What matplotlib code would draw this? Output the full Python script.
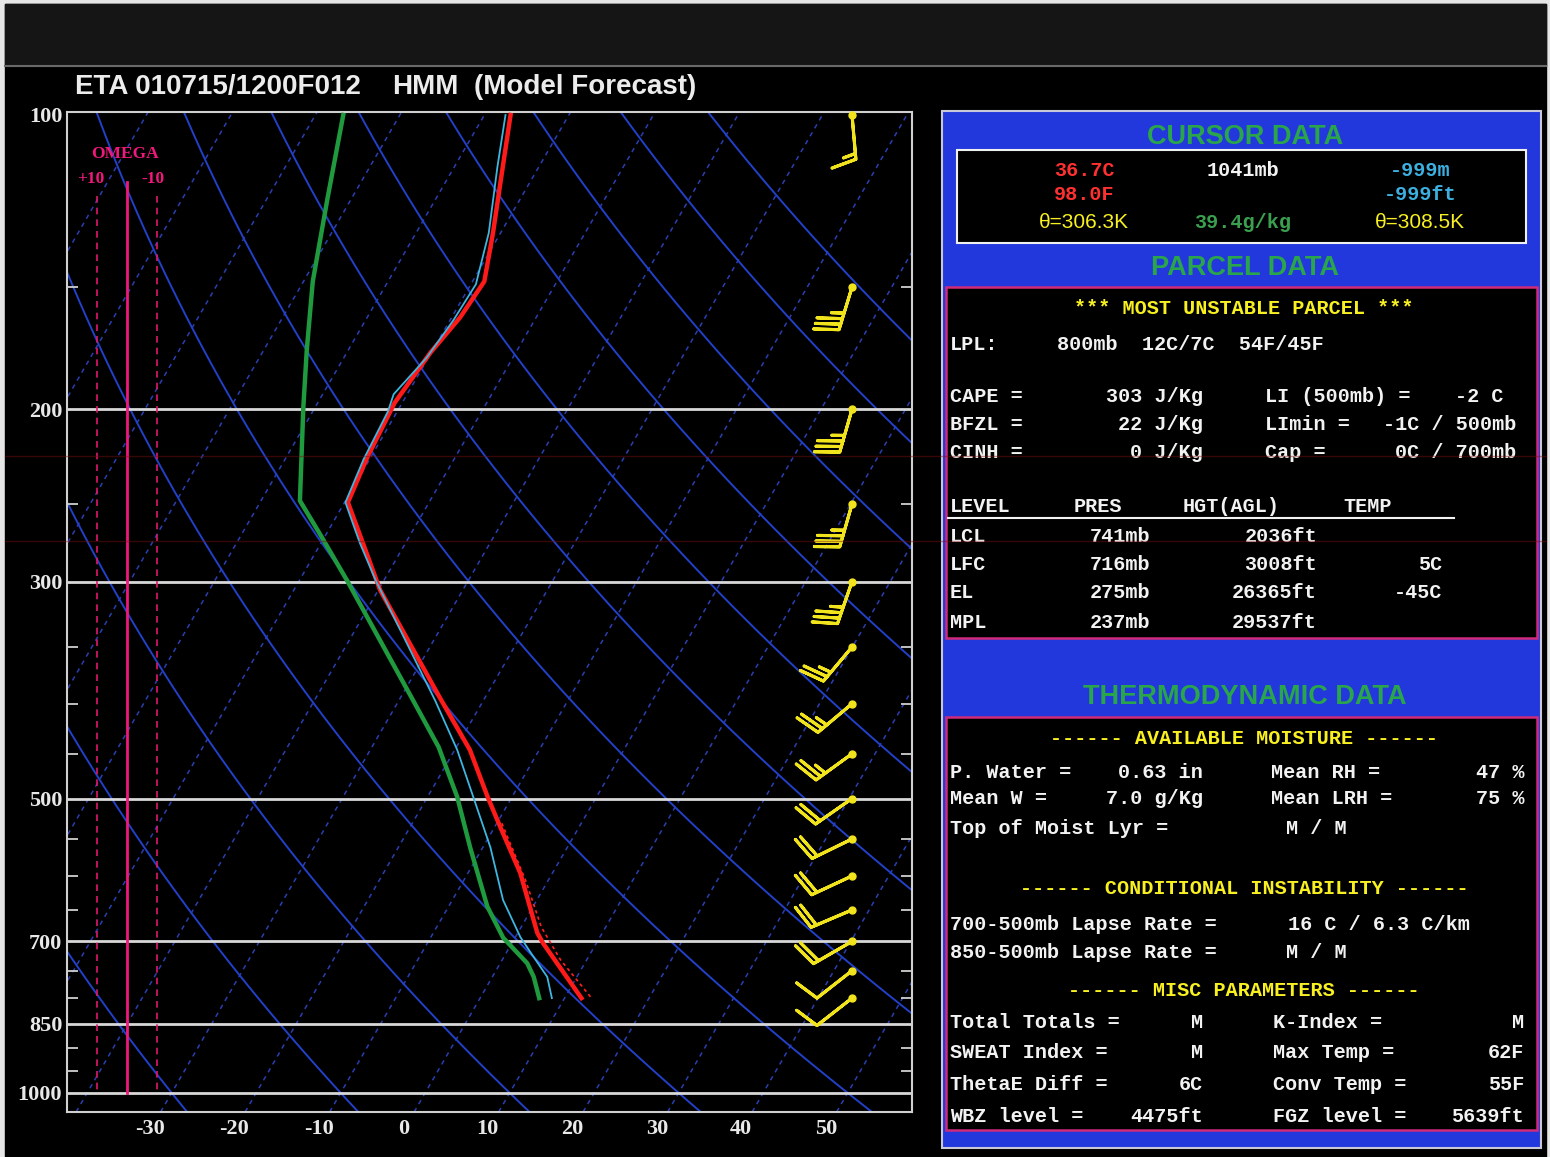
import numpy as np
import matplotlib.pyplot as plt
from matplotlib import font_manager
from matplotlib.patches import Rectangle

# skew-T geometry: x = T + SKEW * ln(P_REF / p)
SKEW = 29.1
P_REF = 1093.0
P_TOP, P_BOT = 99.3, 1046.0
X_MIN, X_MAX = -39.8, 60.2

# temperature (red)
temp_p = [100, 116, 132, 148, 161, 175, 197, 224, 249, 276, 306, 396, 446, 498, 535, 596, 686, 703, 800]
temp_c = [-56.9, -53.7, -50.9, -48.6, -49.0, -50.1, -50.9, -50.4, -49.6, -44.7, -39.8, -25.1, -18.2,
          -12.9, -9.3, -3.8, 2.3, 3.7, 12.0]

# dewpoint (green)
dwpt_p = [100, 122, 148, 174, 199, 248, 268, 299, 397, 443, 498, 561, 645, 694, 737, 761, 800]
dwpt_c = [-76.7, -72.8, -68.9, -64.9, -61.4, -55.4, -50.8, -44.4, -28.3, -22.1, -16.5, -11.5, -5.4,
          -1.4, 3.2, 4.9, 7.0]

# wet-bulb temperature (cyan)
wetb_p = [100, 113, 132, 149, 162, 177, 193, 201, 225, 249, 274, 299, 397, 446, 498, 561, 635, 693,
          719, 761, 800]
wetb_c = [-57.5, -54.9, -51.4, -49.4, -49.6, -50.2, -51.6, -51.1, -50.7, -49.9, -45.4, -41.0, -25.7,
          -19.7, -14.6, -9.1, -4.0, 0.6, 2.9, 6.5, 8.5]

# virtual temperature (dotted red), lower levels only
virt_p = [530, 606, 677, 731, 800]
virt_c = [-9.4, -2.7, 2.4, 6.9, 13.2]

# wind profile
barb_p = [100, 150, 200, 250, 300, 350, 400, 450, 500, 550, 600, 650, 700, 750, 800]
barb_dir = [175, 197, 196, 196, 199, 220, 230, 234, 235, 244, 245, 247, 240, 232, 232]
barb_kt = [15, 35, 35, 35, 35, 25, 25, 25, 20, 20, 20, 20, 20, 10, 10]

p_labels = [100, 200, 300, 500, 700, 850, 1000]
p_minor = [150, 250, 350, 400, 450, 550, 600, 650, 750, 800, 900, 950]
t_labels = [-30, -20, -10, 0, 10, 20, 30, 40, 50]

title_parts = ["ETA 010715/1200F012", "HMM", "(Model Forecast)"]

cursor_rows = [("36.7C", "1041mb", "-999m"), ("98.0F", "", "-999ft"), ("θ=306.3K", "39.4g/kg", "θ=308.5K")]
lpl_line = "800mb  12C/7C  54F/45F"
parcel_rows = [("CAPE =", "303 J/Kg", "LI (500mb) =", "-2 C "),
               ("BFZL =", "22 J/Kg", "LImin =", "-1C / 500mb"),
               ("CINH =", "0 J/Kg", "Cap =", "0C / 700mb")]
level_head = ["LEVEL", "PRES", "HGT(AGL)", "TEMP"]
level_rows = [("LCL", "741mb", "2036ft", ""), ("LFC", "716mb", "3008ft", "5C"),
              ("EL", "275mb", "26365ft", "-45C"), ("MPL", "237mb", "29537ft", "")]
moist_rows = [("P. Water =", "0.63 in", "Mean RH =", "47 %"),
              ("Mean W =", "7.0 g/Kg", "Mean LRH =", "75 %")]
misc_rows = [("Total Totals =", "M", "K-Index =", "M"),
             ("SWEAT Index =", "M", "Max Temp =", "62F"),
             ("ThetaE Diff =", "6C", "Conv Temp =", "55F"),
             ("WBZ level =", "4475ft", "FGZ level =", "5639ft")]

names = {f.name for f in font_manager.fontManager.ttflist}
NARROW = 'Liberation Sans Narrow' if 'Liberation Sans Narrow' in names else None
SANS = NARROW or 'Liberation Sans'
MONO = 'Liberation Mono'
SERIF = 'Liberation Serif'

W, H = 1550, 1157


def skew_x(t, p):
    return np.asarray(t, dtype=float) + SKEW * np.log(P_REF / np.asarray(p, dtype=float))


fig = plt.figure(figsize=(W / 100, H / 100), dpi=100, facecolor='#e6e6e6')

# full-figure pixel canvas for frame and data panel
bg = fig.add_axes([0, 0, 1, 1], zorder=0)
bg.set_xlim(0, W)
bg.set_ylim(H, 0)
bg.axis('off')
bg.add_patch(Rectangle((5, 4), 1541, H - 4, color='black'))
bg.add_patch(Rectangle((5, 4), 1541, 62, color='#151515'))
bg.plot([5, 1546], [66, 66], color='#6a6a6a', lw=1.5)

tsize = 24 if NARROW else 20
for s, x in zip(title_parts, [75, 392, 474]):
    bg.text(x, 87, s, color='#ececec', fontsize=tsize, family=SANS, weight='bold',
            ha='left', va='center')

# ---- skew-T axes ----
ax = fig.add_axes([67 / W, 1 - 1112 / H, 845 / W, 1000 / H], zorder=1)
ax.set_facecolor('black')
ax.set_yscale('log')
ax.set_ylim(P_BOT, P_TOP)
ax.set_xlim(X_MIN, X_MAX)

pp = np.geomspace(P_BOT, P_TOP, 80)
for t in np.arange(-140, 70, 10):
    ax.plot(skew_x(t, pp), pp, color='#2a3fb0', lw=1.1, ls=(0, (3, 3)), zorder=1)
for th in np.arange(-30, 210, 20):
    tk = (th + 273.15) * (pp / 1000.0) ** 0.2857 - 273.15
    ax.plot(skew_x(tk, pp), pp, color='#2240c8', lw=1.4, zorder=1)

for p in p_labels[1:]:
    ax.axhline(p, color='#d8d8d8', lw=2, zorder=2)

# omega reference lines
om_x = -32.7
ax.plot([om_x, om_x], [117, 1000], color='#f0187c', lw=2, zorder=3)
for dx in (-3.6, 3.6):
    ax.plot([om_x + dx] * 2, [121, 1000], color='#e0186e', lw=1.2, ls=(0, (4, 3)), zorder=3)
for s, dx, p in [("OMEGA", -0.2, 109.5), ("+10", -4.3, 116.3), ("-10", 3.1, 116.3)]:
    ax.text(om_x + dx, p, s, color='#f0187c', fontsize=12.5, family=SERIF, weight='bold',
            ha='center', va='center')

# sounding
ax.plot(skew_x(dwpt_c, dwpt_p), dwpt_p, color='#1f9a3e', lw=3.2, zorder=5)
ax.plot(skew_x(virt_c, virt_p), virt_p, color='#ff2020', lw=1.2, ls=(0, (2, 2)), zorder=5)
ax.plot(skew_x(temp_c, temp_p), temp_p, color='#ff1a1a', lw=3.2, zorder=6)
ax.plot(skew_x(wetb_c, wetb_p), wetb_p, color='#3fb6e0', lw=1.3, zorder=7)

# wind barbs
wd = np.radians(barb_dir)
u = -np.array(barb_kt) * np.sin(wd)
v = -np.array(barb_kt) * np.cos(wd)
bx = np.full(len(barb_p), 53.1)
ax.barbs(bx, barb_p, u, v, length=8, pivot='tip', color='#f2e41c', linewidth=2.2,
         sizes=dict(spacing=0.13, height=0.55, width=0.3), zorder=8, clip_on=False)
ax.plot(bx, barb_p, 'o', color='#f2e41c', ms=5, zorder=9, clip_on=False)

# axes frame and ticks
for sp in ax.spines.values():
    sp.set_color('#d0d0d0')
    sp.set_linewidth(1.5)
ax.set_yticks(p_labels)
ax.set_yticklabels([str(p) for p in p_labels], family=SERIF, weight='bold', fontsize=16, color='#e8e8e8')
ax.set_yticks(p_minor, minor=True)
ax.yaxis.set_minor_formatter(plt.NullFormatter())
ax.tick_params(axis='y', which='major', length=0, pad=3.5)
ax.tick_params(axis='y', which='minor', direction='in', length=8, width=1.3, color='#d0d0d0',
               left=True, right=True)
ax.set_xticks(t_labels)
ax.set_xticklabels([str(t) for t in t_labels], family=SERIF, weight='bold', fontsize=16, color='#e8e8e8')
ax.tick_params(axis='x', length=0, pad=5)

# ---- data panel ----
BLUE = '#2338dc'
GREEN = '#2aa64a'
PINK = '#d02a7a'
YEL = '#f8f020'
WHT = '#f2f2f2'
bg.add_patch(Rectangle((942, 111), 599, 1037, facecolor=BLUE, edgecolor='#c8c8d8', lw=1.5))
bg.add_patch(Rectangle((957, 150), 569, 93, facecolor='black', edgecolor='#f0f0f0', lw=1.5))
bg.add_patch(Rectangle((946, 287), 591, 351, facecolor='black', edgecolor=PINK, lw=1.8))
bg.add_patch(Rectangle((946, 717), 591, 413, facecolor='black', edgecolor=PINK, lw=1.8))

hsize = 24 if NARROW else 19.5
for s, y in [("CURSOR DATA", 137), ("PARCEL DATA", 268), ("THERMODYNAMIC DATA", 697)]:
    bg.text(1245, y, s, color=GREEN, fontsize=hsize, family=SANS, weight='bold',
            ha='center', va='center')


def ptext(x, y, s, color=WHT, ha='left', **kw):
    bg.text(x, y, s, color=color, ha=ha, va='center', family=MONO, weight='bold', fontsize=14.5, **kw)


cur_colors = [('#ff3030', WHT, '#3cb0e0'), ('#ff3030', WHT, '#3cb0e0'), (YEL, '#3aa050', YEL)]
for (row, cols), y in zip(zip(cursor_rows, cur_colors), [170, 195, 223]):
    for s, c, x in zip(row, cols, [1084, 1243, 1420]):
        if s.startswith('θ'):
            bg.text(x, y, s, color=c, ha='center', va='center', family=SANS,
                    fontsize=18 if NARROW else 15)
        else:
            ptext(x, y, s, color=c, ha='center')

ptext(1244, 308, "*** MOST UNSTABLE PARCEL ***", color=YEL, ha='center')
ptext(950, 345, "LPL:")
ptext(1057, 345, lpl_line)
for row, y in zip(parcel_rows, [397, 425, 453]):
    ptext(950, y, row[0])
    ptext(1203, y, row[1], ha='right')
    ptext(1265, y, row[2])
    ptext(1516, y, row[3], ha='right')
for s, x in zip(level_head, [950, 1074, 1183, 1343]):
    ptext(x, 506, s)
bg.plot([948, 1454], [518, 518], color=WHT, lw=1.5)
for row, y in zip(level_rows, [537, 565, 593, 622]):
    ptext(950, y, row[0])
    ptext(1150, y, row[1], ha='right')
    ptext(1317, y, row[2], ha='right')
    ptext(1442, y, row[3], ha='right')

ptext(1244, 739, "------ AVAILABLE MOISTURE ------", color=YEL, ha='center')
for row, y in zip(moist_rows, [772, 799]):
    ptext(950, y, row[0])
    ptext(1203, y, row[1], ha='right')
    ptext(1271, y, row[2])
    ptext(1524, y, row[3], ha='right')
ptext(950, 828, "Top of Moist Lyr =")
ptext(1286, 828, "M / M")
ptext(1244, 888, "------ CONDITIONAL INSTABILITY ------", color=YEL, ha='center')
ptext(950, 924, "700-500mb Lapse Rate =")
ptext(1288, 924, "16 C / 6.3 C/km")
ptext(950, 952, "850-500mb Lapse Rate =")
ptext(1286, 952, "M / M")
ptext(1244, 990, "------ MISC PARAMETERS ------", color=YEL, ha='center')
for row, y in zip(misc_rows, [1022, 1053, 1085, 1117]):
    ptext(950, y, row[0])
    ptext(1203, y, row[1], ha='right')
    ptext(1273, y, row[2])
    ptext(1524, y, row[3], ha='right')

# faint scan lines across the display
over = fig.add_axes([0, 0, 1, 1], zorder=20)
over.set_xlim(0, W)
over.set_ylim(H, 0)
over.axis('off')
over.patch.set_alpha(0)
for y in (456, 541):
    over.plot([5, 1546], [y, y], color='#7a1010', lw=1, alpha=0.45)

fig.savefig('out.png', dpi=100, facecolor=fig.get_facecolor())
